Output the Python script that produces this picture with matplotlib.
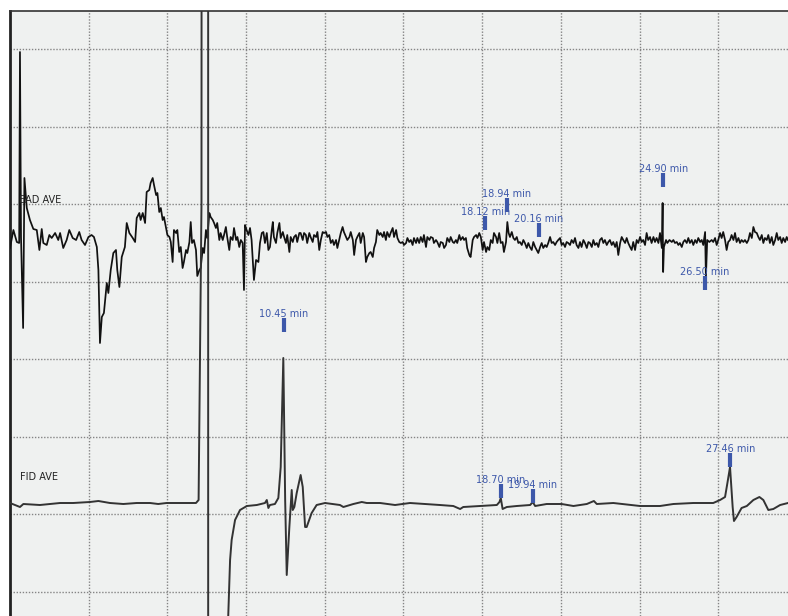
import matplotlib
matplotlib.use("Agg")
import matplotlib.pyplot as plt
import numpy as np

# EAD trace: (retention time in min, response relative to baseline)
ead = [
    (0.00, -8), (0.13, 10), (0.26, -2), (0.35, -3), (0.38, 188), (0.42, 3), (0.50, -88), (0.55, 62),
    (0.64, 32), (0.76, 20), (0.89, 11), (1.02, 10), (1.12, -10), (1.21, 11), (1.27, -3), (1.40, -5),
    (1.50, 5), (1.59, 2), (1.72, 7), (1.84, 0), (1.91, 7), (2.03, -8), (2.16, 0), (2.26, 10),
    (2.39, 2), (2.52, 0), (2.64, 8), (2.73, 0), (2.86, -5), (2.99, 3), (3.11, 5), (3.20, 3),
    (3.31, -7), (3.37, -30), (3.43, -103), (3.50, -77), (3.58, -73), (3.69, -43), (3.75, -53), (3.84, -30),
    (3.94, -13), (4.04, -10), (4.09, -30), (4.17, -47), (4.26, -17), (4.38, -7), (4.45, 17), (4.55, 7),
    (4.68, 2), (4.77, -2), (4.83, 22), (4.93, 27), (4.98, 20), (5.06, 27), (5.15, 17), (5.21, 48),
    (5.31, 50), (5.36, 57), (5.44, 62), (5.49, 55), (5.57, 45), (5.62, 47), (5.69, 28), (5.75, 32),
    (5.82, 20), (5.87, 23), (5.95, 12), (6.00, 5), (6.08, 3), (6.13, -2), (6.20, -22), (6.25, 10),
    (6.33, 7), (6.38, 10), (6.45, -12), (6.51, -7), (6.58, -28), (6.63, -22), (6.71, -10), (6.76, -13),
    (6.84, -2), (6.89, 18), (6.94, -3), (7.01, 0), (7.09, -10), (7.14, -36), (7.22, -30), (7.27, -28),
    (7.35, -8), (7.40, -13), (7.47, 10), (7.52, 2), (7.60, 27), (7.65, 23), (7.73, 20), (7.78, 17),
    (7.85, 12), (7.90, 17), (7.98, 0), (8.03, 7), (8.11, 0), (8.16, 5), (8.23, 13), (8.28, 3),
    (8.36, -10), (8.41, 3), (8.49, 0), (8.54, 12), (8.62, 0), (8.67, 3), (8.74, -7), (8.80, 0),
    (8.87, -3), (8.92, -50), (8.96, 15), (9.02, 10), (9.09, 5), (9.15, 12), (9.21, 0), (9.30, -40),
    (9.38, -20), (9.47, -22), (9.53, -3), (9.60, 7), (9.66, 8), (9.72, -3), (9.79, 7), (9.85, -10),
    (9.91, -7), (9.98, 10), (10.02, 18), (10.06, 3), (10.14, -3), (10.19, 7), (10.27, 17), (10.32, 2),
    (10.40, 8), (10.45, 3), (10.52, -3), (10.57, 5), (10.65, -12), (10.70, 3), (10.78, -2), (10.83, 3),
    (10.90, 5), (10.95, -2), (11.03, 7), (11.08, 7), (11.16, 0), (11.21, 7), (11.28, 5), (11.33, -3),
    (11.41, 7), (11.46, 3), (11.54, -2), (11.59, 5), (11.67, 3), (11.72, 8), (11.79, -10), (11.85, 0),
    (11.92, 8), (11.97, 7), (12.05, 8), (12.10, 3), (12.17, 5), (12.23, -3), (12.30, 0), (12.35, -5),
    (12.43, 0), (12.48, -8), (12.55, 0), (12.61, 7), (12.68, 13), (12.73, 8), (12.81, 3), (12.86, 0),
    (12.94, 3), (12.99, 8), (13.07, 0), (13.12, -15), (13.19, 0), (13.24, 3), (13.32, 7), (13.37, -3),
    (13.45, 7), (13.50, 3), (13.57, -22), (13.62, -17), (13.70, -13), (13.75, -12), (13.83, -17), (13.88, -8),
    (13.95, -2), (14.00, 10), (14.08, 5), (14.13, 7), (14.21, 3), (14.26, 8), (14.33, 0), (14.38, 8),
    (14.46, 3), (14.51, 7), (14.59, 12), (14.64, 3), (14.72, 10), (14.77, 2), (14.84, -2), (14.90, -3),
    (14.97, -2), (15.02, -5), (15.10, -3), (15.15, 2), (15.22, -2), (15.28, 0), (15.35, -5), (15.40, 2),
    (15.48, -3), (15.53, 2), (15.60, -3), (15.66, 3), (15.73, -2), (15.78, 5), (15.86, -7), (15.91, 3),
    (15.99, 0), (16.04, 3), (16.12, 2), (16.16, -3), (16.24, 0), (16.29, -2), (16.37, -7), (16.42, -2),
    (16.50, -3), (16.55, -8), (16.62, -5), (16.67, 2), (16.75, -2), (16.80, 3), (16.88, -2), (16.93, -3),
    (17.00, 0), (17.05, -3), (17.13, 5), (17.18, 0), (17.26, 3), (17.31, 0), (17.38, 2), (17.43, -8),
    (17.51, -15), (17.56, -17), (17.64, 0), (17.69, 3), (17.77, 5), (17.82, 2), (17.89, 7), (17.95, 3),
    (18.02, -10), (18.07, -2), (18.15, -12), (18.20, -7), (18.27, -10), (18.33, 0), (18.40, -3), (18.45, 7),
    (18.53, 3), (18.58, -3), (18.65, 7), (18.71, -3), (18.78, -2), (18.83, -12), (18.91, -2), (18.96, 18),
    (19.01, 7), (19.06, 3), (19.13, 8), (19.19, 2), (19.25, 0), (19.32, 3), (19.38, -3), (19.44, -2),
    (19.51, -5), (19.57, 0), (19.63, -3), (19.70, -8), (19.76, -3), (19.82, -7), (19.89, -10), (19.95, -2),
    (20.02, -7), (20.08, -10), (20.14, -13), (20.21, -7), (20.27, -3), (20.33, -8), (20.40, -5), (20.46, -7),
    (20.52, -3), (20.59, 3), (20.65, -3), (20.71, -2), (20.78, -5), (20.84, -2), (20.90, 0), (20.97, 2),
    (21.03, -5), (21.09, -3), (21.16, -7), (21.22, -2), (21.28, -3), (21.35, -5), (21.41, 0), (21.48, -3),
    (21.54, 2), (21.60, -5), (21.67, -8), (21.73, -2), (21.79, -7), (21.86, 0), (21.92, -3), (21.99, -8),
    (22.05, -2), (22.11, -3), (22.18, -7), (22.24, 0), (22.30, -5), (22.37, -3), (22.43, -7), (22.49, 0),
    (22.56, 2), (22.62, -3), (22.68, 0), (22.75, -5), (22.81, -2), (22.87, 0), (22.94, -5), (23.00, -2),
    (23.07, -7), (23.13, -2), (23.19, -15), (23.26, -3), (23.32, 3), (23.38, 0), (23.45, -3), (23.51, 2),
    (23.57, -3), (23.64, -7), (23.70, -10), (23.76, -2), (23.83, -10), (23.89, 0), (23.95, -3), (24.02, 3),
    (24.08, -2), (24.14, 0), (24.21, -5), (24.27, 7), (24.33, 0), (24.40, 3), (24.46, -3), (24.53, 3),
    (24.59, -2), (24.65, 2), (24.72, -3), (24.78, 7), (24.85, -8), (24.88, 37), (24.90, -32), (24.93, -7),
    (25.01, 0), (25.06, -3), (25.14, 0), (25.23, -2), (25.29, 0), (25.35, -3), (25.42, -2), (25.48, -5),
    (25.54, -3), (25.61, -7), (25.67, -2), (25.73, 0), (25.80, -3), (25.86, 2), (25.92, -3), (25.99, 0),
    (26.05, -5), (26.12, 0), (26.18, -3), (26.24, 2), (26.31, -2), (26.37, 0), (26.43, -5), (26.50, 8),
    (26.53, -38), (26.58, 0), (26.66, -2), (26.75, 0), (26.81, -2), (26.88, 2), (26.94, -5), (27.00, 0),
    (27.07, 7), (27.13, 2), (27.19, 8), (27.26, 0), (27.32, -10), (27.38, -2), (27.45, 0), (27.51, 5),
    (27.58, 0), (27.64, 7), (27.70, -2), (27.77, 2), (27.83, -3), (27.89, 0), (27.96, -2), (28.02, 0),
    (28.09, -3), (28.15, 0), (28.21, 7), (28.28, 2), (28.34, 13), (28.40, 8), (28.47, 7), (28.53, 3),
    (28.59, 0), (28.66, 5), (28.72, -3), (28.78, 2), (28.85, 0), (28.91, 5), (28.97, -3), (29.04, 3),
    (29.10, -5), (29.17, 0), (29.23, 7), (29.29, 0), (29.36, 3), (29.42, -3), (29.48, 2), (29.55, -2),
    (29.61, 3), (29.66, 0),
]

# FID trace: (retention time in min, response relative to baseline); solvent peak runs off scale
fid = [
    (0.00, 1), (0.38, -3), (0.51, 0), (1.14, -1), (1.91, 1), (2.41, 1), (3.05, 2), (3.37, 3),
    (3.81, 1), (4.32, 0), (4.83, 1), (5.34, 1), (5.65, 0), (5.97, 1), (6.35, 1), (6.86, 1),
    (7.09, 1), (7.19, 4), (7.30, 300), (7.34, 3000), (7.55, 3000), (7.56, -3000), (8.20, -3000),
    (8.32, -112), (8.39, -56), (8.45, -36), (8.58, -16), (8.77, -6), (9.03, -2), (9.41, -1),
    (9.72, 1), (9.79, 4), (9.85, -4), (9.91, -1), (10.10, 0), (10.23, 6), (10.32, 37), (10.42, 146),
    (10.49, 4), (10.55, -71), (10.65, -23), (10.74, 14), (10.78, -6), (10.84, -3), (10.93, 11),
    (11.08, 29), (11.16, 17), (11.25, -23), (11.31, -23), (11.50, -9), (11.69, -1), (12.01, 1),
    (12.58, -1), (12.71, -3), (13.09, 0), (13.41, 2), (13.60, 1), (14.11, 1), (14.68, -1),
    (15.25, 1), (15.82, 0), (16.39, -1), (16.90, -2), (17.16, -5), (17.28, -3), (17.92, -2),
    (18.56, -1), (18.66, 2), (18.71, 6), (18.78, -5), (18.94, -3), (19.32, -2), (19.83, -1),
    (19.93, 2), (20.02, -2), (20.46, 0), (21.03, 0), (21.48, -2), (21.99, 0), (22.26, 3),
    (22.37, 0), (23.00, 1), (24.02, -2), (24.78, -2), (25.29, 0), (26.05, 1), (26.81, 1),
    (27.07, 4), (27.26, 7), (27.35, 21), (27.45, 37), (27.55, -3), (27.60, -17), (27.70, -13),
    (27.89, -4), (28.09, -2), (28.34, 4), (28.57, 7), (28.72, 4), (28.91, -6), (29.10, -5),
    (29.36, -1), (29.66, 1),
]

# marked peaks: retention time and the response level where the marker sits
ead_peaks = [18.12, 18.94, 20.16, 24.90, 26.50]
ead_marks = [10, 28, 3, 53, -50]
fid_peaks = [10.45, 18.70, 19.94, 27.46]
fid_marks = [172, 6, 1, 37]

EAD_OFFSET = 376
FID_OFFSET = 112
MARK_LEN = 14
BLUE = "#3d58aa"

fig = plt.figure(figsize=(7.88, 6.16), dpi=100, facecolor="white")
ax = fig.add_axes([10 / 788, 0, 778 / 788, 605 / 616])
ax.set_facecolor("#eff1f0")

ead_t, ead_v = zip(*ead)
fid_t, fid_v = zip(*fid)
ax.plot(ead_t, np.array(ead_v) + EAD_OFFSET, color="#111111", lw=1.25, zorder=3)
ax.plot(fid_t, np.array(fid_v) + FID_OFFSET, color="#333333", lw=1.4, zorder=3)

for peaks, marks, off in [(ead_peaks, ead_marks, EAD_OFFSET), (fid_peaks, fid_marks, FID_OFFSET)]:
    for t, m in zip(peaks, marks):
        ax.vlines(t, m + off, m + off + MARK_LEN, color=BLUE, lw=3, zorder=4)
        ax.text(t, m + off + MARK_LEN + 1, f"{t:.2f} min", color=BLUE, fontsize=7,
                ha="center", va="baseline", zorder=5)

ax.text(0.36, EAD_OFFSET + 40, "EAD AVE", fontsize=7, color="#222222", va="center")
ax.text(0.38, FID_OFFSET + 27, "FID AVE", fontsize=7, color="#222222", va="center")

ax.set_xlim(0, 29.66)
ax.set_ylim(0, 605)
ax.set_xticks(np.arange(3, 28, 3))
ax.set_yticks([24.5, 102, 179.5, 257, 334.5, 412, 489.5, 567])
ax.grid(True, color="#858585", lw=1, linestyle=(0, (1, 1.2)))
ax.tick_params(length=0, labelbottom=False, labelleft=False)

for side in ["right", "bottom"]:
    ax.spines[side].set_visible(False)
ax.spines["left"].set_color("#222222")
ax.spines["left"].set_linewidth(2)
ax.spines["top"].set_color("#333333")
ax.spines["top"].set_linewidth(1.2)

fig.savefig("out.png", dpi=100)
